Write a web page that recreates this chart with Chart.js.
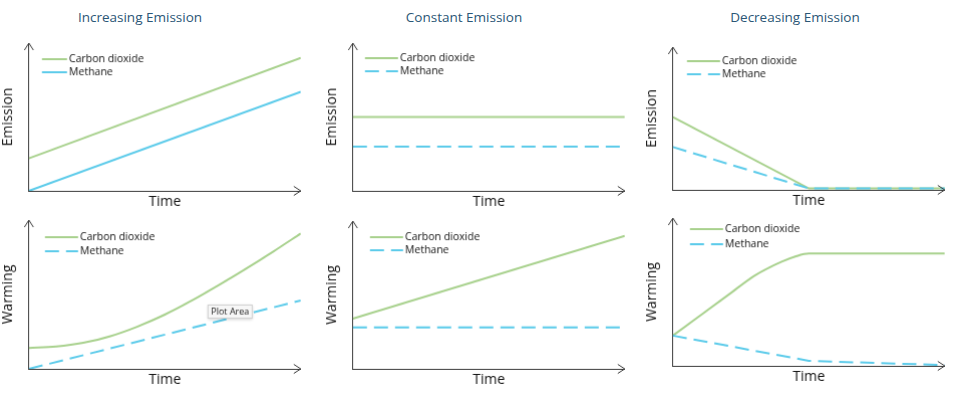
<!DOCTYPE html>
<html>
<head>
<meta charset="utf-8">
<script src="https://cdn.jsdelivr.net/npm/chart.js@4.4.1/dist/chart.umd.min.js"></script>
<style>
  html, body { margin: 0; padding: 0; background: #fff; }
  body { width: 977px; height: 395px; position: relative; overflow: hidden; font-family: "Open Sans", sans-serif; }
  .title { position: absolute; top: 8px; width: 220px; margin-left: -110px; text-align: center; font-size: 13.5px; color: #2b5676; }
  .panel { position: absolute; }
</style>
</head>
<body>
<div class="title" style="left:140px">Increasing Emission</div>
<div class="title" style="left:464px">Constant Emission</div>
<div class="title" style="left:795px">Decreasing Emission</div>
<div class="panel" id="p1"><canvas></canvas></div>
<div class="panel" id="p2"><canvas></canvas></div>
<div class="panel" id="p3"><canvas></canvas></div>
<div class="panel" id="p4"><canvas></canvas></div>
<div class="panel" id="p5"><canvas></canvas></div>
<div class="panel" id="p6"><canvas></canvas></div>
<script>
// series names
const co2Label = 'Carbon dioxide';
const ch4Label = 'Methane';

// emission, increasing
const incEmTime = [0, 10];
const incEmCo2 = [22, 90];
const incEmCh4 = [0, 67];
// emission, constant
const conEmTime = [0, 10];
const conEmCo2 = [50, 50];
const conEmCh4 = [30, 30];
// emission, decreasing
const decEmTime = [0, 5, 10];
const decEmCo2 = [51, 1, 1];
const decEmCh4 = [30, 1, 1];

// warming, increasing
const incWarmTimeCo2 = [0, 1, 2, 3, 4, 5, 6, 7, 8, 9, 10];
const incWarmCo2 = [14, 15, 17.5, 22, 28.5, 36.5, 46, 56.5, 67.5, 79, 91];
const incWarmTimeCh4 = [0, 10];
const incWarmCh4 = [0, 46];
// warming, constant
const conWarmTime = [0, 10];
const conWarmCo2 = [34, 90];
const conWarmCh4 = [28, 28];
// warming, decreasing
const decWarmTimeCo2 = [0, 1, 2, 3, 4, 4.5, 5, 6, 10];
const decWarmCo2 = [20.5, 34, 47.5, 61, 70.5, 74, 76, 76, 76];
const decWarmTimeCh4 = [0, 5, 10];
const decWarmCh4 = [20.5, 3.4, 0.5];

const GREEN = '#a8d18d';
const BLUE = '#5ccbea';
const AXIS = '#3a3a3a';
const DASH = [14, 7];

Chart.defaults.font.family = '"Open Sans", sans-serif';
Chart.defaults.animation = false;

function pts(xs, ys) {
  return xs.map((x, i) => ({ x: x, y: ys[i] }));
}

const axisArrows = {
  id: 'axisArrows',
  afterDraw(chart) {
    const { ctx, chartArea: a } = chart;
    ctx.save();
    ctx.strokeStyle = AXIS;
    ctx.lineWidth = 1;
    ctx.beginPath();
    ctx.moveTo(a.left - 4.5, a.top + 7);
    ctx.lineTo(a.left, a.top);
    ctx.lineTo(a.left + 4.5, a.top + 7);
    ctx.moveTo(a.right - 7, a.bottom - 4.5);
    ctx.lineTo(a.right, a.bottom);
    ctx.lineTo(a.right - 7, a.bottom + 4.5);
    ctx.stroke();
    ctx.restore();
  }
};

const insideLegend = {
  id: 'insideLegend',
  afterDraw(chart, args, opts) {
    const { ctx, chartArea: a } = chart;
    chart.data.datasets.forEach((ds, i) => {
      const x = a.left + opts.x;
      const y = a.top + opts.y + i * opts.gap;
      ctx.save();
      ctx.strokeStyle = ds.borderColor;
      ctx.lineWidth = 2;
      ctx.setLineDash(ds.borderDash || []);
      ctx.beginPath();
      ctx.moveTo(x, y);
      ctx.lineTo(x + opts.len, y);
      ctx.stroke();
      ctx.setLineDash([]);
      ctx.fillStyle = '#111';
      ctx.font = '10.5px "Open Sans", sans-serif';
      ctx.textBaseline = 'middle';
      ctx.fillText(ds.label, x + opts.len + 2, y + 0.5);
      ctx.restore();
    });
  }
};

// leftover "Plot Area" hover tag seen on the source picture
const plotAreaTag = {
  id: 'plotAreaTag',
  afterDraw(chart, args, opts) {
    if (!opts.text) return;
    const { ctx, chartArea: a } = chart;
    const x = a.left + opts.x, y = a.top + opts.y;
    ctx.save();
    ctx.shadowColor = 'rgba(0,0,0,0.18)';
    ctx.shadowBlur = 3;
    ctx.shadowOffsetY = 1;
    ctx.fillStyle = '#f7f7f7';
    ctx.fillRect(x, y, opts.w, opts.h);
    ctx.shadowColor = 'transparent';
    ctx.strokeStyle = '#d0d0d0';
    ctx.lineWidth = 1;
    ctx.strokeRect(x + 0.5, y + 0.5, opts.w - 1, opts.h - 1);
    ctx.fillStyle = '#222';
    ctx.font = '9px "Open Sans", sans-serif';
    ctx.textAlign = 'center';
    ctx.textBaseline = 'middle';
    ctx.fillText(opts.text, x + opts.w / 2, y + opts.h / 2 + 0.5);
    ctx.restore();
  }
};

const Y_AXIS_W = 28.8;   // title line height 16.8 + padding 12
const X_AXIS_H = 24.8;   // title line height 16.8 + padding 8

function makePanel(id, box, yTitle, co2, ch4, ch4Dash, smooth, legend, tag) {
  const pad = { left: 2, top: 8, right: 8, bottom: 2 };
  const el = document.getElementById(id);
  const left = box.left - Y_AXIS_W - pad.left;
  const top = box.top - pad.top;
  el.style.left = left + 'px';
  el.style.top = top + 'px';
  el.style.width = (box.right + pad.right - left) + 'px';
  el.style.height = (box.bottom + X_AXIS_H + pad.bottom - top) + 'px';

  new Chart(el.querySelector('canvas'), {
    type: 'line',
    data: {
      datasets: [
        { label: co2Label, data: co2, borderColor: GREEN, borderWidth: 2, pointRadius: 0,
          cubicInterpolationMode: smooth ? 'monotone' : 'default', tension: 0, order: 2 },
        { label: ch4Label, data: ch4, borderColor: BLUE, borderWidth: 2, pointRadius: 0,
          tension: 0, borderDash: ch4Dash ? DASH : [], order: 1 }
      ]
    },
    options: {
      responsive: true,
      maintainAspectRatio: false,
      events: [],
      layout: { padding: pad },
      plugins: {
        legend: { display: false },
        tooltip: { enabled: false },
        insideLegend: legend,
        plotAreaTag: tag || {}
      },
      scales: {
        x: {
          type: 'linear', min: 0, max: 10,
          grid: { display: false, drawTicks: false },
          ticks: { display: false },
          border: { display: true, color: AXIS, width: 1 },
          title: { display: true, text: 'Time', color: '#111', font: { size: 14 }, padding: { top: 3, bottom: 5 } }
        },
        y: {
          min: 0, max: 100,
          grid: { display: false, drawTicks: false },
          ticks: { display: false },
          border: { display: true, color: AXIS, width: 1 },
          title: { display: true, text: yTitle, color: '#111', font: { size: 14 }, padding: { top: 0, bottom: 12 } }
        }
      }
    },
    plugins: [axisArrows, insideLegend, plotAreaTag]
  });
}

makePanel('p1', { left: 29, top: 43, right: 300, bottom: 190 }, 'Emission',
  pts(incEmTime, incEmCo2), pts(incEmTime, incEmCh4), false, false,
  { x: 13, y: 16, gap: 13, len: 25 });
makePanel('p2', { left: 353, top: 43, right: 624, bottom: 190 }, 'Emission',
  pts(conEmTime, conEmCo2), pts(conEmTime, conEmCh4), true, false,
  { x: 12, y: 15, gap: 13, len: 33 });
makePanel('p3', { left: 673, top: 47, right: 944, bottom: 189 }, 'Emission',
  pts(decEmTime, decEmCo2), pts(decEmTime, decEmCh4), true, false,
  { x: 14, y: 14, gap: 13, len: 33 });
makePanel('p4', { left: 29, top: 220, right: 300, bottom: 368 }, 'Warming',
  pts(incWarmTimeCo2, incWarmCo2), pts(incWarmTimeCh4, incWarmCh4), true, true,
  { x: 16, y: 17, gap: 14, len: 33 },
  { text: 'Plot Area', x: 178, y: 84, w: 45, h: 14 });
makePanel('p5', { left: 353, top: 221, right: 624, bottom: 368 }, 'Warming',
  pts(conWarmTime, conWarmCo2), pts(conWarmTime, conWarmCh4), true, false,
  { x: 17, y: 16, gap: 13, len: 33 });
makePanel('p6', { left: 673, top: 218, right: 944, bottom: 365 }, 'Warming',
  pts(decWarmTimeCo2, decWarmCo2), pts(decWarmTimeCh4, decWarmCh4), true, true,
  { x: 17, y: 11, gap: 15, len: 33 });
</script>
</body>
</html>
